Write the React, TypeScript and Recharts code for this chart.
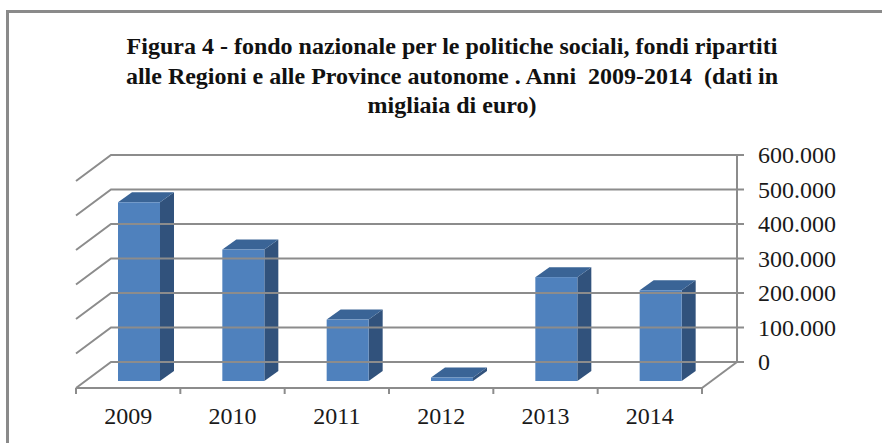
import React from 'react';
import { BarChart, Bar, XAxis, YAxis } from 'recharts';

const years = ['2009', '2010', '2011', '2012', '2013', '2014'];
const fundValues = [518000, 381000, 178000, 10000, 301000, 263000];
const yTicks = [0, 100000, 200000, 300000, 400000, 500000, 600000];
const titleLines = [
  'Figura 4 - fondo nazionale per le politiche sociali, fondi ripartiti',
  'alle Regioni e alle Province autonome . Anni  2009-2014  (dati in',
  'migliaia di euro)',
];

const data = years.map((year, i) => ({ year, value: fundValues[i] }));

const GRID = '#8c8c8c';
const FONT = '"Liberation Serif", "Times New Roman", serif';

// front plane of the fake 3D box
const LEFT = 76;
const RIGHT = 702;
const TOP = 181;
const FLOOR = 388;
const BAND = (RIGHT - LEFT) / years.length;
// offset front plane -> back wall
const WALL_X = 35;
const WALL_Y = 26;
// offset front plane -> bar face, and depth of the bars
const BAR_X = 11;
const BAR_Y = 7;
const DEPTH_X = 14;
const DEPTH_Y = 10;

const formatTick = (v: number) => (v === 0 ? '0' : `${v / 1000}.000`);

const Bar3D = (props: any) => {
  const x = props.x + BAR_X;
  const y = props.y - BAR_Y;
  const { width, height } = props;
  const r = x + width;
  const b = y + height;
  return (
    <g>
      <polygon
        points={`${r},${y} ${r + DEPTH_X},${y - DEPTH_Y} ${r + DEPTH_X},${b - DEPTH_Y} ${r},${b}`}
        fill="#31527c"
      />
      <polygon
        points={`${x},${y} ${x + DEPTH_X},${y - DEPTH_Y} ${r + DEPTH_X},${y - DEPTH_Y} ${r},${y}`}
        fill="#3a6496"
      />
      <rect x={x} y={y} width={width} height={height} fill="#4f81bd" />
    </g>
  );
};

const YTick = (props: any) => {
  const { y, payload } = props;
  const wallY = y - WALL_Y;
  const line = { stroke: GRID, strokeWidth: 2, fill: 'none' };
  return (
    <g>
      <polyline
        points={`${LEFT},${y} ${LEFT + WALL_X},${wallY} ${RIGHT + WALL_X},${wallY} ${RIGHT + WALL_X + 7},${wallY}`}
        {...line}
      />
      {payload.value === 0 && (
        <line x1={RIGHT} y1={y} x2={RIGHT + WALL_X} y2={wallY} {...line} />
      )}
      <text x={758} y={wallY + 8} fontFamily={FONT} fontSize={24} fill="#1a1a1a">
        {formatTick(payload.value)}
      </text>
    </g>
  );
};

const XTick = (props: any) => {
  const { x, payload, index } = props;
  const left = x - BAND / 2;
  const mark = { stroke: GRID, strokeWidth: 2 };
  return (
    <g>
      <line x1={left} y1={FLOOR} x2={left} y2={FLOOR + 6} {...mark} />
      {index === years.length - 1 && (
        <line x1={x + BAND / 2} y1={FLOOR} x2={x + BAND / 2} y2={FLOOR + 6} {...mark} />
      )}
      <text x={x} y={FLOOR + 36} textAnchor="middle" fontFamily={FONT} fontSize={24} fill="#1a1a1a">
        {payload.value}
      </text>
    </g>
  );
};

export default function App() {
  return (
    <div style={{ position: 'absolute', left: 0, top: 0, width: 882, height: 443, background: '#fff', overflow: 'hidden' }}>
      <div style={{ position: 'absolute', left: 6, top: 10, width: 900, height: 500, border: '3px solid #8a8a8a' }} />
      <div
        style={{
          position: 'absolute',
          left: 52,
          top: 32,
          width: 800,
          textAlign: 'center',
          fontFamily: FONT,
          fontWeight: 'bold',
          fontSize: 24,
          lineHeight: '29.5px',
          color: '#111',
          whiteSpace: 'pre',
        }}
      >
        {titleLines.map((t) => (
          <div key={t}>{t}</div>
        ))}
      </div>
      <div style={{ position: 'absolute', left: 0, top: 0 }}>
        <BarChart
          width={882}
          height={443}
          data={data}
          margin={{ top: TOP, left: LEFT, right: 0, bottom: 0 }}
          barSize={42}
        >
          <XAxis
            dataKey="year"
            height={443 - FLOOR}
            interval={0}
            tickLine={false}
            axisLine={{ stroke: GRID, strokeWidth: 2 }}
            tick={<XTick />}
          />
          <YAxis
            orientation="right"
            width={882 - RIGHT}
            domain={[0, 600000]}
            ticks={yTicks}
            interval={0}
            tickLine={false}
            axisLine={{ stroke: GRID, strokeWidth: 2, transform: `translate(${WALL_X},${-WALL_Y})` }}
            tick={<YTick />}
          />
          <Bar dataKey="value" isAnimationActive={false} shape={<Bar3D />} />
        </BarChart>
      </div>
    </div>
  );
}
